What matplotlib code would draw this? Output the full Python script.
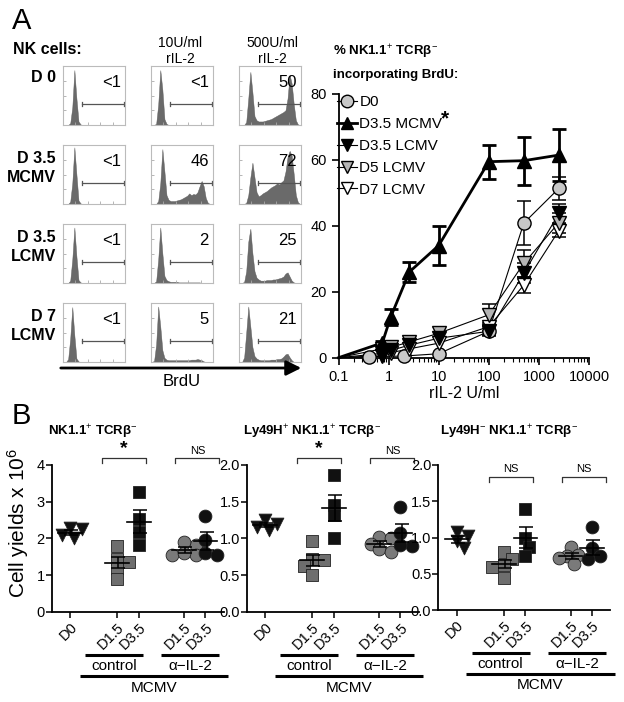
#!/usr/bin/env python3
"""
NK cell BrdU incorporation (A) and cell yields (B), redrawn with matplotlib
"""

import numpy as np
import matplotlib
matplotlib.use('Agg')
import matplotlib.pyplot as plt
import matplotlib.patches as mpatches
import matplotlib.transforms as mtransforms
from matplotlib import font_manager
from matplotlib.lines import Line2D

W, H = 624, 702
DPI = 100

_names = {f.name for f in font_manager.fontManager.ttflist}
SANS = 'Liberation Sans' if 'Liberation Sans' in _names else 'DejaVu Sans'
NARROW = 'Liberation Sans Narrow' if 'Liberation Sans Narrow' in _names else SANS

plt.rcParams['font.family'] = [SANS, 'DejaVu Sans']
plt.rcParams['mathtext.fontset'] = 'custom'
plt.rcParams['mathtext.rm'] = SANS
plt.rcParams['mathtext.it'] = SANS + ':italic'
plt.rcParams['mathtext.bf'] = SANS + ':bold'

# ---------------- panel A: histograms ----------------
ROW_LABELS = ['D 0', 'D 3.5\nMCMV', 'D 3.5\nLCMV', 'D 7\nLCMV']
COL_HEADERS = ['10U/ml\nrIL-2', '500U/ml\nrIL-2']
PCT_LABELS = [['<1', '<1', '50'],
              ['<1', '46', '72'],
              ['<1', '2', '25'],
              ['<1', '5', '21']]

# histogram heights (fraction of box height), 30 bins across BrdU axis
HIST = [
    [[0, 0, 0, 0.03, 0.3, 0.93, 0.45, 0.06, 0.01] + [0] * 21,
     [0, 0, 0.02, 0.35, 0.93, 0.6, 0.1, 0.02] + [0] * 22,
     [0, 0, 0, 0.05, 0.45, 0.9, 0.55, 0.15, 0.08, 0.06, 0.06, 0.06, 0.07, 0.08, 0.09,
      0.1, 0.12, 0.14, 0.16, 0.18, 0.2, 0.22, 0.25, 0.45, 0.85, 0.7, 0.35, 0.08, 0.01, 0]],
    [[0, 0, 0, 0.04, 0.35, 0.96, 0.5, 0.06, 0.01] + [0] * 21,
     [0, 0, 0, 0.05, 0.35, 0.93, 0.55, 0.15, 0.07, 0.05, 0.05, 0.05, 0.06, 0.07, 0.08,
      0.1, 0.12, 0.14, 0.18, 0.15, 0.17, 0.16, 0.2, 0.3, 0.39, 0.3, 0.1, 0.02, 0, 0],
     [0, 0, 0, 0.02, 0.15, 0.45, 0.7, 0.45, 0.2, 0.13, 0.15, 0.18, 0.2, 0.22, 0.25,
      0.28, 0.3, 0.32, 0.35, 0.33, 0.37, 0.4, 0.55, 0.8, 0.9, 0.82, 0.5, 0.15, 0.03, 0]],
    [[0, 0, 0, 0.04, 0.4, 0.94, 0.45, 0.05, 0.01] + [0] * 21,
     [0, 0, 0.03, 0.4, 0.94, 0.5, 0.12, 0.05, 0.03, 0.02, 0.02, 0.02, 0.02, 0.01, 0.01,
      0.01, 0.01, 0.01, 0.01, 0.01, 0.01, 0.01, 0.01, 0.01, 0, 0, 0, 0, 0, 0],
     [0, 0, 0.02, 0.2, 0.7, 0.92, 0.5, 0.2, 0.09, 0.06, 0.04, 0.04, 0.04, 0.05, 0.05,
      0.05, 0.06, 0.06, 0.07, 0.08, 0.09, 0.11, 0.16, 0.18, 0.11, 0.04, 0.01, 0, 0, 0]],
    [[0, 0, 0.05, 0.4, 0.93, 0.45, 0.06, 0.01] + [0] * 22,
     [0, 0.02, 0.3, 0.94, 0.6, 0.2, 0.07, 0.04, 0.03, 0.03, 0.03, 0.03, 0.03, 0.03, 0.03,
      0.03, 0.03, 0.03, 0.03, 0.04, 0.04, 0.04, 0.05, 0.04, 0.03, 0.01, 0, 0, 0, 0],
     [0, 0, 0.08, 0.5, 0.94, 0.6, 0.25, 0.1, 0.06, 0.04, 0.03, 0.03, 0.03, 0.03, 0.03,
      0.04, 0.04, 0.04, 0.05, 0.05, 0.06, 0.09, 0.13, 0.14, 0.08, 0.03, 0, 0, 0, 0]],
]

# ---------------- panel A: dose response ----------------
IL2_TRI = [0.1, 0.75, 1.1, 2.6, 10, 100, 500, 2500]
IL2_D0 = [0.1, 0.4, 2, 10, 100, 500, 2500]
SERIES_NAMES = ['D0', 'D3.5 MCMV', 'D3.5 LCMV', 'D5 LCMV', 'D7 LCMV']
BRDU_D0 = [0, 0.3, 0.5, 1.2, 8, 40.8, 51.3]
BRDU_D0_ERR = [0, 0, 0, 0, 1, 6.7, 3.6]
BRDU_D35_MCMV = [0, 4.5, 12.3, 26, 34, 59.4, 59.7, 61.4]
BRDU_D35_MCMV_ERR = [0, 0.6, 2.5, 3, 6, 5.2, 7.3, 7.8]
BRDU_D35_LCMV = [0, 0.6, 2.2, 3.8, 5.9, 8, 25.6, 43.7]
BRDU_D35_LCMV_ERR = [0, 0, 0, 0, 0, 1.5, 3, 3]
BRDU_D5_LCMV = [0, 2.7, 3.1, 4.8, 7.4, 13, 28.6, 40.9]
BRDU_D5_LCMV_ERR = [0, 0, 0, 0, 0, 3.3, 4, 3]
BRDU_D7_LCMV = [0, 1.3, 1.5, 2.7, 4.4, 9.4, 22, 38.5]
BRDU_D7_LCMV_ERR = [0, 0, 0, 0, 0, 1.2, 2.5, 2]

# ---------------- panel B: cell yields ----------------
B_CATS = ['D0', 'D1.5', 'D3.5', 'D1.5', 'D3.5']
B_TITLES = [r'NK1.1$^{+}$ TCRβ$^{-}$',
            r'Ly49H$^{+}$ NK1.1$^{+}$ TCRβ$^{-}$',
            r'Ly49H$^{-}$ NK1.1$^{+}$ TCRβ$^{-}$']
NK_TOTAL = [[2.28, 2.25, 2.1, 2.0],
            [1.78, 1.45, 1.35, 1.2, 0.9],
            [3.27, 2.54, 2.18, 1.82],
            [1.82, 1.9, 1.55, 1.55, 1.6],
            [2.6, 1.95, 1.6, 1.55]]
LY49H_POS = [[1.25, 1.2, 1.15, 1.12],
             [0.96, 0.72, 0.7, 0.62, 0.5],
             [1.86, 1.46, 1.32, 1.0],
             [1.02, 1.0, 0.92, 0.85, 0.82],
             [1.43, 1.07, 0.89, 0.91]]
LY49H_NEG = [[1.08, 1.02, 0.95, 0.85],
             [0.8, 0.7, 0.62, 0.6, 0.44],
             [1.4, 0.99, 0.87, 0.74],
             [0.87, 0.76, 0.74, 0.72, 0.64],
             [1.15, 0.85, 0.74, 0.7]]
B_SIG = [['*', 'NS'], ['*', 'NS'], ['NS', 'NS']]


def fbox(x0, y0, x1, y1):
    """pixel box (top-left origin) -> figure fraction rect"""
    return [x0 / W, 1 - y1 / H, (x1 - x0) / W, (y1 - y0) / H]


def ftext(x, y, s, **kw):
    fig.text(x / W, 1 - y / H, s, **kw)


def swarm(vals, px_x, px_y, size):
    vals = np.asarray(vals, dtype=float)
    offs = np.zeros(len(vals))
    placed = []
    for i in np.argsort(-vals):
        for c in [0, 0.5, -0.5, 1.0, -1.0, 1.5, -1.5]:
            dx = c * size * 0.6 / px_x
            if all(np.hypot((dx - offs[j]) * px_x, (vals[i] - vals[j]) * px_y) >= size * 0.7
                   for j in placed):
                break
        offs[i] = dx
        placed.append(i)
    return offs


fig = plt.figure(figsize=(W / DPI, H / DPI), dpi=DPI)

# ---- panel A labels ----
ftext(12, 21, 'A', fontsize=21, va='center', ha='left', family=[NARROW, SANS])
ftext(13, 50, 'NK cells:', fontsize=11.5, fontweight='bold', va='center', ha='left')
ftext(180, 51, COL_HEADERS[0], fontsize=10, va='center', ha='center', linespacing=1.25)
ftext(272, 51, COL_HEADERS[1], fontsize=10, va='center', ha='center', linespacing=1.25)

row_y = [66, 145, 224, 303]
col_x = [63, 151, 239]
for r in range(4):
    yc = row_y[r] + 12 if r == 0 else row_y[r] + 23
    ftext(56, yc, ROW_LABELS[r], fontsize=11.5, fontweight='bold', va='center', ha='right',
          multialignment='right', linespacing=1.35)
    for c in range(3):
        ax = fig.add_axes(fbox(col_x[c], row_y[r], col_x[c] + 62, row_y[r] + 59))
        h = np.asarray(HIST[r][c], dtype=float)
        xs = (np.arange(len(h)) + 0.5) / len(h)
        xs = np.concatenate([[0], xs, [1]])
        h = np.concatenate([[0], h, [0]])
        ax.fill_between(xs, 0, h, color='#6a6a6a', lw=0.3, edgecolor='#5a5a5a')
        ax.plot([0.3, 0.985], [0.36, 0.36], color='#555555', lw=0.9)
        ax.plot([0.3, 0.3], [0.33, 0.39], color='#555555', lw=0.9)
        ax.plot([0.985, 0.985], [0.33, 0.39], color='#555555', lw=0.9)
        ax.text(0.93, 0.72, PCT_LABELS[r][c], transform=ax.transAxes, ha='right', va='center',
                fontsize=12)
        ax.set_xlim(0, 1)
        ax.set_ylim(0, 1)
        ax.set_xticks([0.2, 0.4, 0.6, 0.8])
        ax.set_yticks([0.25, 0.5, 0.75])
        ax.tick_params(direction='in', length=2, width=0.6, color='#aaaaaa',
                       labelbottom=False, labelleft=False)
        for sp in ax.spines.values():
            sp.set_color('#bbbbbb')
            sp.set_linewidth(0.8)

arrow = mpatches.FancyArrowPatch((58 / W, 1 - 368 / H), (304 / W, 1 - 368 / H),
                                 transform=fig.transFigure, arrowstyle='-|>,head_length=0.9,head_width=0.45',
                                 mutation_scale=10, lw=2, color='black')
fig.add_artist(arrow)
ftext(182, 382, 'BrdU', fontsize=12, ha='center', va='center')

# ---- panel A dose response ----
axL = fig.add_axes(fbox(338.5, 93.7, 589, 357.7))
styles = [
    (IL2_D0, BRDU_D0, BRDU_D0_ERR, 'o', '#c8c8c8', 0.8),
    (IL2_TRI, BRDU_D7_LCMV, BRDU_D7_LCMV_ERR, 'v', 'white', 0.8),
    (IL2_TRI, BRDU_D5_LCMV, BRDU_D5_LCMV_ERR, 'v', '#b4b4b4', 0.8),
    (IL2_TRI, BRDU_D35_LCMV, BRDU_D35_LCMV_ERR, 'v', 'black', 0.8),
    (IL2_TRI, BRDU_D35_MCMV, BRDU_D35_MCMV_ERR, '^', 'black', 2.0),
]
for xs, ys, es, mk, fc, lw in styles:
    xs = np.asarray(xs, dtype=float)
    ys = np.asarray(ys, dtype=float)
    es = np.asarray(es, dtype=float)
    axL.plot(xs, ys, color='black', lw=lw, zorder=2, clip_on=False)
    m = es > 0
    axL.errorbar(xs[m], ys[m], yerr=es[m], fmt='none', ecolor='black',
                 elinewidth=max(lw, 1.1), capsize=5, capthick=max(lw, 1.1), zorder=2)
    axL.plot(xs[1:], ys[1:], ls='none', marker=mk, ms=9.5, mfc=fc, mec='black', mew=1.0,
             zorder=3, clip_on=False)

axL.set_xscale('log')
axL.set_xlim(0.1, 10000)
axL.set_ylim(0, 80)
axL.set_xticks([0.1, 1, 10, 100, 1000, 10000])
axL.set_xticklabels(['0.1', '1', '10', '100', '1000', '10000'])
axL.set_yticks([0, 20, 40, 60, 80])
axL.tick_params(axis='both', which='major', direction='out', length=5, width=1.2, labelsize=10.5)
axL.tick_params(axis='x', which='minor', direction='out', length=3, width=0.8)
axL.spines['top'].set_visible(False)
axL.spines['right'].set_visible(False)
axL.spines['left'].set_linewidth(1.3)
axL.spines['bottom'].set_linewidth(1.3)
axL.set_xlabel('rIL-2 U/ml', fontsize=11.5, labelpad=2)

handles = [
    Line2D([], [], color='black', lw=0.8, marker='o', ms=9, mfc='#c8c8c8', mec='black'),
    Line2D([], [], color='black', lw=2.0, marker='^', ms=9, mfc='black', mec='black'),
    Line2D([], [], color='black', lw=0.8, marker='v', ms=9, mfc='black', mec='black'),
    Line2D([], [], color='black', lw=0.8, marker='v', ms=9, mfc='#b4b4b4', mec='black'),
    Line2D([], [], color='black', lw=0.8, marker='v', ms=9, mfc='white', mec='black'),
]
axL.legend(handles, SERIES_NAMES, loc='upper left', bbox_to_anchor=(-0.005, 0.995), frameon=False,
           fontsize=11, handlelength=1.3, handletextpad=0.15, labelspacing=0.52, borderaxespad=0,
           borderpad=0)
ftext(441, 119, '*', fontsize=15, fontweight='bold', ha='left', va='center')
ftext(333, 52, r'% NK1.1$^{+}$ TCRβ$^{-}$', fontsize=9.5, fontweight='bold', ha='left', va='center')
ftext(333, 75, 'incorporating BrdU:', fontsize=9.5, fontweight='bold', ha='left', va='center')

# ---- panel B ----
ftext(12, 416, 'B', fontsize=21, va='center', ha='left', family=[NARROW, SANS])
POS = [0, 2.2, 3.2, 5.3, 6.3]
MARKERS = ['v', 's', 's', 'o', 'o']
FACES = ['#111111', '#6e6e6e', '#111111', '#7a7a7a', '#111111']
b_boxes = [(51.7, 465, 223.7, 611.7), (246.7, 465, 418.7, 611.7), (438.3, 465, 610.3, 610)]
b_data = [NK_TOTAL, LY49H_POS, LY49H_NEG]
b_ymax = [4, 2.0, 2.0]
b_ticks = [[0, 1, 2, 3, 4], [0, 0.5, 1.0, 1.5, 2.0], [0, 0.5, 1.0, 1.5, 2.0]]
b_fmt = ['{:.0f}', '{:.1f}', '{:.1f}']
b_title_x = [93, 312, 509]
br_y = [1.048, 1.048, 0.92]
XLIM = (-0.85, 7.15)

for k in range(3):
    x0, y0, x1, y1 = b_boxes[k]
    ax = fig.add_axes(fbox(x0, y0, x1, y1))
    px_x = (x1 - x0) / (XLIM[1] - XLIM[0])
    px_y = (y1 - y0) / b_ymax[k]
    for g, vals in enumerate(b_data[k]):
        vals = np.asarray(vals, dtype=float)
        offs = swarm(vals, px_x, px_y, 13)
        ax.scatter(POS[g] + offs, vals, marker=MARKERS[g], s=85, c=FACES[g], edgecolors='#222222',
                   linewidths=0.6, zorder=3, clip_on=False)
        mean = vals.mean()
        sem = vals.std(ddof=1) / np.sqrt(len(vals))
        ax.plot([POS[g] - 0.55, POS[g] + 0.55], [mean, mean], color='black', lw=1.2, zorder=4)
        ax.errorbar([POS[g] + 0.05], [mean], yerr=[sem], fmt='none', ecolor='black', elinewidth=1.1,
                    capsize=5, capthick=1.1, zorder=4)
    ax.set_xlim(*XLIM)
    ax.set_ylim(0, b_ymax[k])
    ax.set_yticks(b_ticks[k])
    ax.set_yticklabels([b_fmt[k].format(t) for t in b_ticks[k]])
    ax.set_xticks(POS)
    ax.set_xticklabels(B_CATS, rotation=45, ha='right', va='top', rotation_mode='anchor',
                       fontsize=10.5)
    ax.tick_params(axis='y', direction='out', length=4, width=1.1, labelsize=10.5, pad=1)
    ax.tick_params(axis='x', direction='out', length=4, width=1.1, pad=2)
    ax.spines['top'].set_visible(False)
    ax.spines['right'].set_visible(False)
    ax.spines['left'].set_linewidth(1.3)
    ax.spines['bottom'].set_linewidth(1.3)

    tr = mtransforms.blended_transform_factory(ax.transData, ax.transAxes)
    for (xa, xb), sig in zip([(1.5, 3.55), (4.9, 6.95)], B_SIG[k]):
        yb = br_y[k]
        ax.plot([xa, xa, xb, xb], [yb - 0.035, yb, yb, yb - 0.035], color='#333333', lw=0.9,
                transform=tr, clip_on=False)
        if sig == '*':
            ax.text((xa + xb) / 2, yb + 0.005, '*', transform=tr, ha='center', va='bottom',
                    fontsize=14, fontweight='bold')
        else:
            ax.text((xa + xb) / 2, yb + 0.015, 'NS', transform=tr, ha='center', va='bottom',
                    fontsize=8)
    ax.plot([0.7, 3.4], [-0.295, -0.295], color='black', lw=2.2, transform=tr, clip_on=False,
            solid_capstyle='butt')
    ax.plot([4.25, 6.95], [-0.295, -0.295], color='black', lw=2.2, transform=tr, clip_on=False,
            solid_capstyle='butt')
    ax.plot([0.45, 7.35], [-0.44, -0.44], color='black', lw=2.2, transform=tr, clip_on=False,
            solid_capstyle='butt')
    ax.text(2.05, -0.37, 'control', transform=tr, ha='center', va='center', fontsize=11)
    ax.text(5.6, -0.37, 'α−IL-2', transform=tr, ha='center', va='center', fontsize=11)
    ax.text(3.9, -0.52, 'MCMV', transform=tr, ha='center', va='center', fontsize=11)
    ftext(b_title_x[k], 432, B_TITLES[k], fontsize=9.5, fontweight='bold', ha='center', va='center')

ftext(18, 523, r'Cell yields x 10$^{6}$', fontsize=15, rotation=90, ha='center', va='center')

plt.savefig('out.png', dpi=DPI)
